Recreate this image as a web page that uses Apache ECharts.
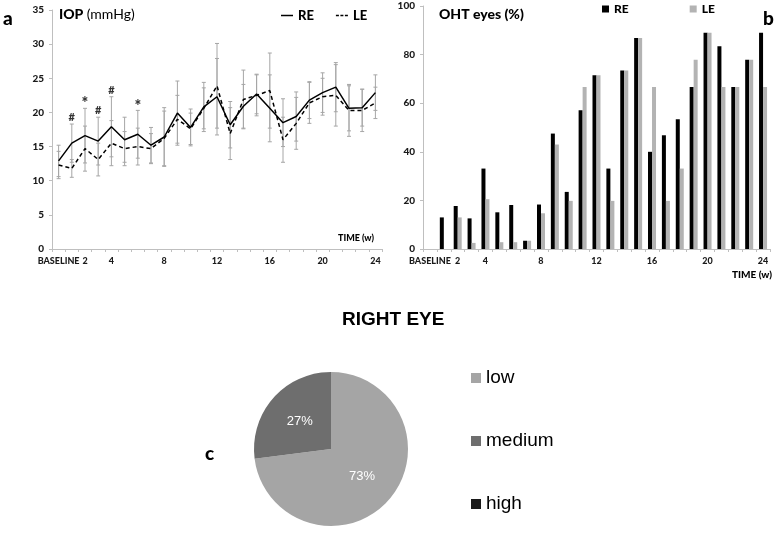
<!DOCTYPE html>
<html>
<head>
<meta charset="utf-8">
<script src="https://cdn.jsdelivr.net/npm/echarts@6/dist/echarts.min.js"></script>
<style>html,body{margin:0;padding:0;background:#fff;}#c{width:777px;height:533px;}</style>
</head>
<body>
<div id="c"></div>
<script>
const weeks = ['BASELINE','1','2','3','4','5','6','7','8','9','10','11','12','13','14','15','16','17','18','19','20','21','22','23','24'];
const shownLabels = ['BASELINE','2','4','8','12','16','20','24'];
const iopRE = [12.9,15.5,16.6,15.8,17.9,16.0,16.8,15.2,16.4,19.9,17.8,20.8,22.3,18.2,20.9,22.7,20.6,18.5,19.4,21.8,22.9,23.7,20.6,20.7,22.9];
const iopLE = [12.3,11.8,14.7,13.1,15.5,14.7,15.0,14.7,16.2,19.0,17.6,20.6,23.9,16.9,21.9,22.5,23.2,16.0,18.4,21.4,22.3,22.5,20.3,20.3,21.4];
const sdRE = [2.3,2.8,4.0,3.5,4.4,3.3,3.5,2.6,4.3,4.7,2.7,3.6,5.6,3.4,3.2,2.9,4.9,3.5,3.6,2.7,2.9,3.6,3.3,2.7,2.6];
const sdLE = [2.0,1.3,3.3,2.4,3.3,2.5,2.7,2.2,4.0,3.5,2.3,3.0,6.2,3.8,4.3,3.0,5.5,3.3,3.8,3.0,2.7,4.5,3.8,3.1,2.3];
const annotWeeks = ['1','2','3','4','6'];
const annotText = ['#','*','#','#','*'];
const ohtRE = [0,13.0,17.7,12.6,33.1,15.1,18.1,3.4,18.3,47.5,23.5,57.1,71.5,33.1,73.5,86.8,40.0,46.8,53.4,66.7,89.0,83.4,66.7,77.9,89.0];
const ohtLE = [0,0,13.0,2.5,20.5,2.8,2.8,3.4,14.7,43.0,19.8,66.7,71.5,19.8,73.5,86.8,66.7,19.8,33.1,77.9,89.0,66.7,66.7,77.9,66.7];
const pieLabels = ['low','medium','high'];
const pieValues = [73,27,0];

const F = 'Lato, "Open Sans", sans-serif';
const A = '"Liberation Sans", Arial, sans-serif';
const axisGray = '#bfbfbf';

function errData(m, s) { return m.map((v, i) => [i, v - s[i], v + s[i]]); }
function errRender(params, api) {
  const x = api.value(0);
  const lo = api.coord([x, api.value(1)]);
  const hi = api.coord([x, api.value(2)]);
  const cap = 2;
  const st = { stroke: '#a6a6a6', lineWidth: 1 };
  return { type: 'group', children: [
    { type: 'line', shape: { x1: lo[0], y1: hi[1], x2: lo[0], y2: lo[1] }, style: st },
    { type: 'line', shape: { x1: lo[0] - cap, y1: hi[1], x2: lo[0] + cap, y2: hi[1] }, style: st },
    { type: 'line', shape: { x1: lo[0] - cap, y1: lo[1], x2: lo[0] + cap, y2: lo[1] }, style: st }
  ]};
}
const annotData = annotWeeks.map((w, k) => {
  const i = weeks.indexOf(w);
  return { value: [i, Math.max(iopRE[i] + sdRE[i], iopLE[i] + sdLE[i])], txt: annotText[k] };
});

const xAxisCommon = {
  type: 'category', data: weeks, boundaryGap: true,
  axisLine: { lineStyle: { color: axisGray } },
  axisTick: { show: true, interval: 0, length: 3, lineStyle: { color: axisGray } },
  axisLabel: { interval: 0, color: '#1a1a1a', fontFamily: F, fontWeight: 900, fontSize: 9, margin: 8,
    formatter: v => shownLabels.indexOf(v) >= 0 ? v : '' },
  splitLine: { show: false }
};
const yAxisCommon = {
  type: 'value',
  axisLine: { show: true, lineStyle: { color: axisGray } },
  axisTick: { show: true, length: 3, lineStyle: { color: axisGray } },
  axisLabel: { color: '#1a1a1a', fontFamily: F, fontWeight: 900, fontSize: 10, margin: 8 },
  splitLine: { show: false }
};

const chart = echarts.init(document.getElementById('c'), null, { renderer: 'canvas' });
chart.setOption({
  animation: false,
  backgroundColor: '#fff',
  grid: [
    { left: 52, right: 395, top: 10, bottom: 284 },
    { left: 423, right: 7, top: 6, bottom: 284 }
  ],
  xAxis: [
    Object.assign({ gridIndex: 0 }, xAxisCommon),
    Object.assign({ gridIndex: 1 }, xAxisCommon)
  ],
  yAxis: [
    Object.assign({ gridIndex: 0, min: 0, max: 35, interval: 5 }, yAxisCommon),
    Object.assign({ gridIndex: 1, min: 0, max: 100, interval: 20 }, yAxisCommon)
  ],
  legend: [
    { data: [
        { name: 'RE', icon: 'rect', itemStyle: { color: '#000' } },
        { name: 'LE', icon: 'path://M0,0h4v2h-4z M6,0h4v2h-4z M12,0h4v2h-4z', itemStyle: { color: '#000' } }
      ],
      left: 281, top: 9, padding: 0, itemWidth: 12, itemHeight: 1.5, itemGap: 22,
      selectedMode: false, textStyle: { fontFamily: F, fontWeight: 900, fontSize: 13, color: '#000' } },
    { data: ['RE_b', 'LE_b'], left: 602, top: 3, padding: 0, icon: 'rect', itemWidth: 7, itemHeight: 7, itemGap: 61,
      selectedMode: false, formatter: n => n.replace('_b', ''),
      textStyle: { fontFamily: F, fontWeight: 900, fontSize: 12, color: '#000' } },
    { data: pieLabels, orient: 'vertical', left: 471, top: 368, padding: 0, icon: 'rect', itemWidth: 10, itemHeight: 10,
      itemGap: 43, selectedMode: false,
      textStyle: { fontFamily: A, fontSize: 19, color: '#000', lineHeight: 20 } }
  ],
  graphic: [
    { type: 'text', left: 3, top: 9, style: { text: 'a', font: '900 19px ' + F, fill: '#000' } },
    { type: 'text', left: 59, top: 7, style: { text: '{b|IOP} {n|(mmHg)}', rich: {
      b: { fontFamily: F, fontWeight: 900, fontSize: 14, fill: '#000' },
      n: { fontFamily: F, fontSize: 14, fill: '#000' } } } },
    { type: 'text', left: 338, top: 234, style: { text: 'TIME (w)', font: '900 9px ' + F, fill: '#000' } },
    { type: 'text', left: 439, top: 7, style: { text: 'OHT eyes (%)', font: '900 14px ' + F, fill: '#000' } },
    { type: 'text', left: 763, top: 9, style: { text: 'b', font: '900 19px ' + F, fill: '#000' } },
    { type: 'text', left: 732, top: 270, style: { text: 'TIME (w)', font: '900 10px ' + F, fill: '#000' } },
    { type: 'text', left: 342, top: 310, style: { text: 'RIGHT EYE', font: 'bold 19px ' + A, fill: '#000' } },
    { type: 'text', left: 205, top: 444, style: { text: 'c', font: '900 19px ' + F, fill: '#000' } }
  ],
  series: [
    { type: 'custom', name: 'errRE', xAxisIndex: 0, yAxisIndex: 0, renderItem: errRender,
      encode: { x: 0, y: [1, 2] }, data: errData(iopRE, sdRE), z: 1, silent: true },
    { type: 'custom', name: 'errLE', xAxisIndex: 0, yAxisIndex: 0, renderItem: errRender,
      encode: { x: 0, y: [1, 2] }, data: errData(iopLE, sdLE), z: 1, silent: true },
    { type: 'line', name: 'RE', xAxisIndex: 0, yAxisIndex: 0, data: iopRE, symbol: 'none', z: 3,
      lineStyle: { color: '#000', width: 1.5 }, itemStyle: { color: '#000' } },
    { type: 'line', name: 'LE', xAxisIndex: 0, yAxisIndex: 0, data: iopLE, symbol: 'none', z: 3,
      lineStyle: { color: '#000', width: 1.5, type: [4, 3] }, itemStyle: { color: '#000' } },
    { type: 'scatter', name: 'annot', xAxisIndex: 0, yAxisIndex: 0, symbolSize: 0, z: 4,
      data: annotData,
      label: { show: true, position: 'top', distance: 1,
        formatter: p => p.data.txt === '*' ? '{s|*}' : '{h|#}',
        rich: { s: { fontFamily: F, fontWeight: 900, fontSize: 16, color: '#000', padding: [0, 0, -5, 0] },
                h: { fontFamily: F, fontWeight: 900, fontSize: 11, color: '#000' } } } },
    { type: 'bar', name: 'RE_b', xAxisIndex: 1, yAxisIndex: 1, data: ohtRE, barWidth: 4, barGap: '0%',
      itemStyle: { color: '#000' } },
    { type: 'bar', name: 'LE_b', xAxisIndex: 1, yAxisIndex: 1, data: ohtLE, barWidth: 4, barGap: '0%',
      itemStyle: { color: '#b3b3b3' } },
    { type: 'pie', name: 'RIGHT EYE', center: [331, 449], radius: 77, startAngle: 90, clockwise: true,
      data: pieLabels.map((n, i) => ({ name: n, value: pieValues[i] })),
      color: ['#a5a5a5', '#6e6e6e', '#1a1a1a'],
      itemStyle: { borderWidth: 0 },
      label: { show: true, position: 'inside', color: '#fff', fontFamily: A, fontSize: 13,
        formatter: p => p.value > 0 ? Math.round(p.percent) + '%' : '' },
      labelLine: { show: false }, emphasis: { disabled: true } }
  ]
});
</script>
</body>
</html>
